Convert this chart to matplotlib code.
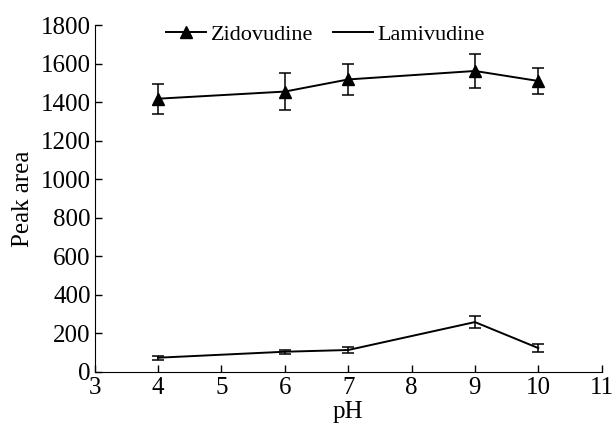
import matplotlib
matplotlib.use("Agg")
import matplotlib.pyplot as plt

ph = [4, 6, 7, 9, 10]
zidovudine = [1418, 1455, 1518, 1562, 1510]
zidovudine_err = [77, 98, 80, 90, 68]
lamivudine = [73, 104, 113, 258, 123]
lamivudine_err = [10, 10, 17, 30, 20]

plt.rcParams['font.family'] = ['Liberation Serif', 'DejaVu Serif']

fig = plt.figure(figsize=(6.13, 4.41), dpi=100)
ax = fig.add_axes([0.1545, 0.157, 0.827, 0.786])

ax.errorbar(ph, zidovudine, yerr=zidovudine_err, color='black', lw=1.4,
            marker='^', markersize=9, capsize=4, elinewidth=1.1, capthick=1.1,
            label='Zidovudine')
ax.errorbar(ph, lamivudine, yerr=lamivudine_err, color='black', lw=1.4,
            capsize=4, elinewidth=1.1, capthick=1.1, label='Lamivudine')

ax.set_xlim(3, 11)
ax.set_ylim(0, 1800)
ax.set_xticks(range(3, 12))
ax.set_yticks(range(0, 1801, 200))
ax.spines['top'].set_visible(False)
ax.spines['right'].set_visible(False)
ax.tick_params(direction='in', length=5, labelsize=18, width=1)
ax.tick_params(axis='x', pad=4)
ax.tick_params(axis='y', pad=3)
ax.set_xlabel('pH', fontsize=18, labelpad=1)
ax.set_ylabel('Peak area', fontsize=18, labelpad=5)

handles, labels = ax.get_legend_handles_labels()
handles = [h[0] for h in handles]
ax.legend(handles, labels, loc='upper center', bbox_to_anchor=(0.455, 1.06),
          ncol=2, frameon=False, fontsize=16, handlelength=1.8,
          handletextpad=0.2, columnspacing=0.9)

fig.savefig('out.png', dpi=100)
